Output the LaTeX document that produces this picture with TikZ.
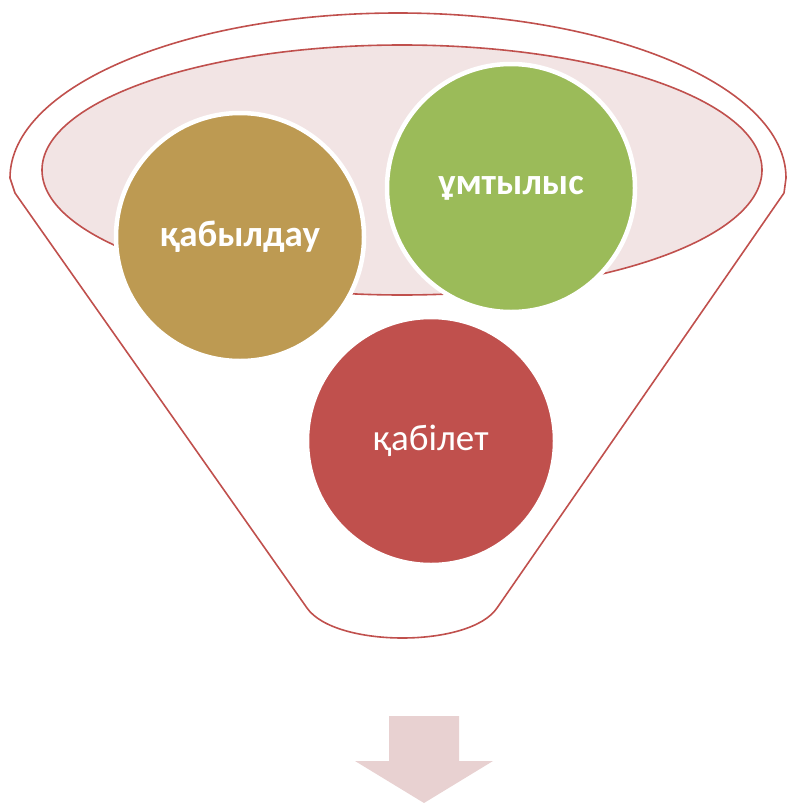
\documentclass[tikz,border=0pt]{standalone}
\usepackage{fontspec}
\setmainfont{Carlito}
\definecolor{funnelred}{HTML}{C0504D}
\definecolor{rimpink}{HTML}{F2E4E4}
\definecolor{arrowpink}{HTML}{E8D1D1}
\definecolor{goldball}{HTML}{BD9A52}
\definecolor{greenball}{HTML}{9BBB59}
\definecolor{redball}{HTML}{C0504D}
\tikzset{
  ball/.style={circle,draw=white,line width=4.5pt,minimum size=248pt,inner sep=0pt,text=white,font=\fontsize{37}{37}\selectfont},
  boldball/.style={ball,font=\fontsize{37}{37}\selectfont\bfseries},
}
\begin{document}
\begin{tikzpicture}[x=1pt,y=-1pt]
\useasboundingbox (0,0) rectangle (787,803);
%\draw[step=50,gray,very thin] (0,0) grid (787,803); %background grid

% funnel
\draw[funnelred,line width=1.6pt,line join=round] (15,193) -- (10,178) arc[start angle=180,end angle=360,x radius=388,y radius=165] -- (784,193) -- (497,608) .. controls (470,648) and (335,648) .. (307,608) -- cycle;
\draw[funnelred,line width=1.6pt,fill=rimpink] (402,170) ellipse [x radius=360,y radius=125];

% balls
\node[boldball,fill=goldball] (kabyldau) at (240,237) {\raisebox{-4pt}{қабылдау}};
\node[boldball,fill=greenball] (umtylys) at (511,188) {\raisebox{-4pt}{ұмтылыс}};
\node[ball,fill=redball] (kabilet) at (431,441) {қабілет};

% arrow
\fill[arrowpink] (389,716) -- (459,716) -- (459,761) -- (493,761) -- (424,803) -- (355,761) -- (389,761) -- cycle;

\end{tikzpicture}
\end{document}
